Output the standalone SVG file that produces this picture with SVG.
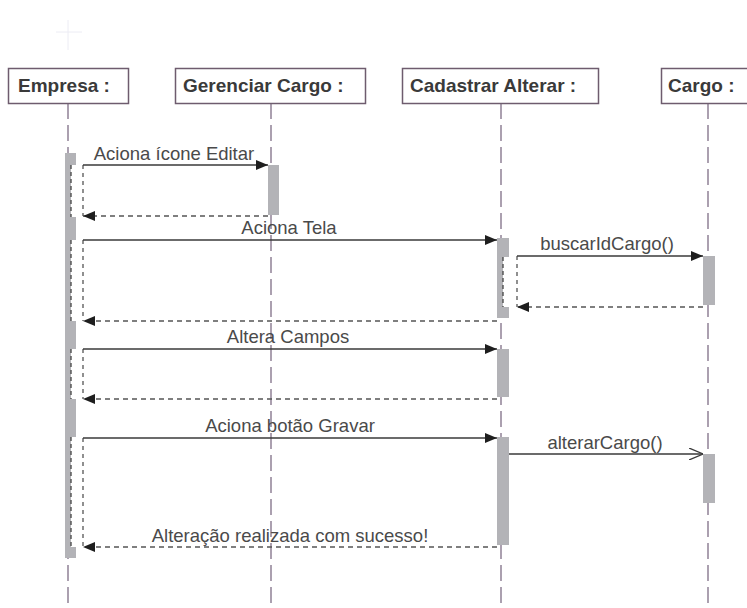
<svg xmlns="http://www.w3.org/2000/svg" width="747" height="608" viewBox="0 0 747 608">
<style>
.box{fill:#fff;stroke:#6e5c6e;stroke-width:1.5}
.bt{font-family:"Liberation Sans",Arial,sans-serif;font-size:19px;font-weight:bold;fill:#3a3a3a}
.life{stroke:#7f6e86;stroke-width:1.3;stroke-dasharray:16 6;fill:none}
.bar{fill:#b3b3b7}
.inner{fill:#fff}
.idash{stroke:#444;stroke-width:1.3;stroke-dasharray:4 3;fill:none}
.msg{stroke:#3a3a3a;stroke-width:1.4;fill:none}
.ret{stroke:#555;stroke-width:1.3;stroke-dasharray:5 4;fill:none}
.frame{stroke:#555;stroke-width:1.3;stroke-dasharray:4 4;fill:none}
.lbl{font-family:"Liberation Sans",Arial,sans-serif;font-size:18.5px;fill:#4a4a4a;text-anchor:middle}
</style>
<defs>
<marker id="fa" viewBox="0 0 12 10" refX="12" refY="5" markerWidth="12" markerHeight="10" markerUnits="userSpaceOnUse" orient="auto">
<path d="M0,0 L12,5 L0,10 Z" fill="#1e1e1e"/>
</marker>
<marker id="oa" viewBox="0 0 14 12" refX="14" refY="6" markerWidth="14" markerHeight="12" markerUnits="userSpaceOnUse" orient="auto">
<path d="M0,0 L14,6 L0,12" fill="none" stroke="#3a3a3a" stroke-width="1.3"/>
</marker>
</defs>
<rect width="747" height="608" fill="#fff"/>
<g id="ghost" stroke="#ececf4" stroke-width="1" fill="none">
<line x1="68" y1="20" x2="68" y2="50"/>
<line x1="56" y1="32" x2="82" y2="32"/>
</g>
<g id="lifelines">
<line class="life" x1="68" y1="103" x2="68" y2="608"/>
<line class="life" x1="271" y1="103" x2="271" y2="608"/>
<line class="life" x1="501" y1="103" x2="501" y2="608"/>
<line class="life" x1="708" y1="103" x2="708" y2="608"/>
</g>
<g id="empresa">
<rect class="box" x="8.5" y="68.5" width="120" height="35"/>
<text class="bt" x="18" y="92">Empresa :</text>
<rect class="bar" x="65" y="153" width="11" height="405"/>
<rect class="inner" x="71" y="165" width="5" height="52"/>
<rect class="inner" x="71" y="240" width="5" height="81"/>
<rect class="inner" x="71" y="349" width="5" height="50"/>
<rect class="inner" x="71" y="437" width="5" height="110"/>
<path class="idash" d="M71,165V217M71,240V321M71,349V399M71,437V547"/>
</g>
<g id="gerenciar">
<rect class="box" x="175.5" y="68.5" width="190" height="35"/>
<text class="bt" x="183" y="92">Gerenciar Cargo :</text>
<rect class="bar" x="268" y="165" width="11" height="50"/>
</g>
<g id="cadastrar">
<rect class="box" x="402.5" y="68.5" width="196" height="35"/>
<text class="bt" x="410" y="92">Cadastrar Alterar :</text>
<rect class="bar" x="497" y="238" width="12" height="80"/>
<rect class="inner" x="503" y="257" width="6" height="50"/>
<path class="idash" d="M503,257V307"/>
<rect class="bar" x="497" y="349" width="12" height="48"/>
<rect class="bar" x="497" y="437" width="12" height="108"/>
</g>
<g id="cargo">
<rect class="box" x="661.5" y="68.5" width="100" height="35"/>
<text class="bt" x="668" y="92">Cargo :</text>
<rect class="bar" x="703" y="256" width="12" height="49"/>
<rect class="bar" x="703" y="454" width="12" height="49"/>
</g>
<g id="connectors">
<path class="frame" d="M83,165V216M83,240V321M83,349V399M83,438V547M517,256V307"/>
<line class="msg" x1="83" y1="165" x2="268" y2="165" marker-end="url(#fa)"/>
<line class="ret" x1="268" y1="216" x2="83" y2="216" marker-end="url(#fa)"/>
<line class="msg" x1="83" y1="240" x2="497" y2="240" marker-end="url(#fa)"/>
<line class="msg" x1="517" y1="256" x2="703" y2="256" marker-end="url(#fa)"/>
<line class="ret" x1="703" y1="307" x2="517" y2="307" marker-end="url(#fa)"/>
<line class="ret" x1="497" y1="321" x2="83" y2="321" marker-end="url(#fa)"/>
<line class="msg" x1="83" y1="349" x2="497" y2="349" marker-end="url(#fa)"/>
<line class="ret" x1="497" y1="399" x2="83" y2="399" marker-end="url(#fa)"/>
<line class="msg" x1="83" y1="438" x2="497" y2="438" marker-end="url(#fa)"/>
<line class="msg" x1="509" y1="454" x2="703" y2="454" marker-end="url(#oa)"/>
<line class="ret" x1="497" y1="547" x2="83" y2="547" marker-end="url(#fa)"/>
<text class="lbl" x="174" y="160">Aciona ícone Editar</text>
<text class="lbl" x="289" y="234">Aciona Tela</text>
<text class="lbl" x="607" y="250">buscarIdCargo()</text>
<text class="lbl" x="288" y="343">Altera Campos</text>
<text class="lbl" x="290" y="432">Aciona botão Gravar</text>
<text class="lbl" x="605" y="449">alterarCargo()</text>
<text class="lbl" x="290" y="542">Alteração realizada com sucesso!</text>
</g>
</svg>
